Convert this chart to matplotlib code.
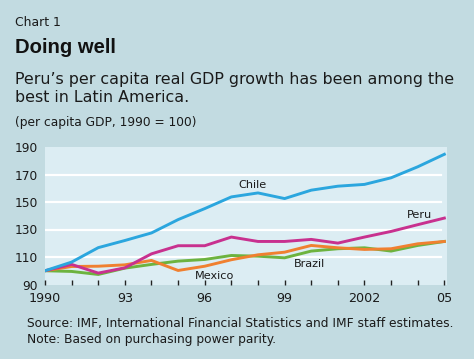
import matplotlib
matplotlib.use("Agg")
import matplotlib.pyplot as plt
from matplotlib.transforms import offset_copy

years = list(range(1990, 2006))
chile = [100, 106.3, 116.8, 122, 127.5, 137.2, 145.2, 153.7, 156.6, 152.5, 158.6, 161.5, 162.8, 167.6, 175.6, 184.7]
peru = [100, 104.6, 98.3, 102.1, 112.3, 118.2, 118.2, 124.5, 121.3, 121.3, 122.8, 120.1, 124.5, 128.6, 133.5, 138.3]
mexico = [100, 103.1, 103.3, 104.3, 107.5, 100.2, 103.3, 108, 111.6, 113.5, 118.4, 116.7, 115.5, 116, 119.6, 121.3]
brazil = [100, 99.5, 97.3, 101.9, 104.6, 107, 108.2, 111.1, 110.6, 109.4, 114.3, 116, 116.7, 114.3, 118.4, 121.3]
yticks = [90, 110, 130, 150, 170, 190]
xtick_years = [1990, 1993, 1996, 1999, 2002, 2005]
xtick_labels = ["1990", "93", "96", "99", "2002", "05"]

W, H = 474, 359
plt.rcParams['font.family'] = ['DejaVu Sans']
fig = plt.figure(figsize=(W / 100, H / 100), dpi=100)
fig.patch.set_facecolor('#c2dbe1')

def px(x, y):
    return x / W, 1 - y / H

L, R, T, B = 45, 447, 147, 284.5
ax = fig.add_axes([L / W, 1 - B / H, (R - L) / W, (B - T) / H])
ax.set_facecolor('#dcedf3')
for s in ax.spines.values():
    s.set_visible(False)
ax.set_xlim(1990, 2005.1)
ax.set_ylim(90, 190)
for v in yticks[1:-1]:
    ax.axhline(v, color='white', lw=1.6, xmax=0.985, zorder=1)

c_chile = '#2ba6de'
c_peru = '#c8318f'
c_mex = '#f08030'
c_bra = '#6db33f'
lw = 2.1
ax.plot(years, brazil, color=c_bra, lw=lw, zorder=3)
ax.plot(years, mexico, color=c_mex, lw=lw, zorder=3)
ax.plot(years, peru, color=c_peru, lw=lw, zorder=4)
ax.plot(years, chile, color=c_chile, lw=lw, zorder=4)

ax.set_yticks(yticks)
ax.set_yticklabels([str(v) for v in yticks], fontsize=8.8, color='#1a1a1a')
ax.tick_params(axis='y', length=0, pad=5)
ax.set_xticks(years)
ax.set_xticklabels(["" for _ in years])
ax.tick_params(axis='x', direction='in', length=3.5, width=1.0, color='#222222')
xt = offset_copy(ax.transData, fig=fig, x=0, y=-7, units='dots')
for yv, lab in zip(xtick_years, xtick_labels):
    ax.text(yv, 90, lab, transform=xt, ha='center', va='top',
            fontsize=9.2, color='#1a1a1a')

lab_kw = dict(fontsize=8.1, color='#1a1a1a', ha='center', va='center')
ax.text(1997.8, 162.0, 'Chile', **lab_kw)
ax.text(2004.05, 140.3, 'Peru', **lab_kw)
ax.text(1996.36, 96.3, 'Mexico', **lab_kw)
ax.text(1999.93, 105.0, 'Brazil', **lab_kw)

fig.text(*px(15, 26.5), 'Chart 1', fontsize=8.9, color='#1a1a1a', va='baseline')
fig.text(*px(15, 53), 'Doing well', fontsize=14.6, fontweight='bold', color='#111111',
         va='baseline', family='Liberation Sans')
fig.text(*px(15, 84), 'Peru\u2019s per capita real GDP growth has been among the', fontsize=11.45, color='#1a1a1a', va='baseline')
fig.text(*px(15, 101.5), 'best in Latin America.', fontsize=11.45, color='#1a1a1a', va='baseline')
fig.text(*px(15, 126), '(per capita GDP, 1990 = 100)', fontsize=8.8, color='#1a1a1a', va='baseline')
fig.text(*px(27, 327.5), 'Source: IMF, International Financial Statistics and IMF staff estimates.', fontsize=8.8, color='#1a1a1a', va='baseline')
fig.text(*px(27, 343), 'Note: Based on purchasing power parity.', fontsize=8.8, color='#1a1a1a', va='baseline')

fig.savefig('out.png', dpi=100, facecolor=fig.get_facecolor())
